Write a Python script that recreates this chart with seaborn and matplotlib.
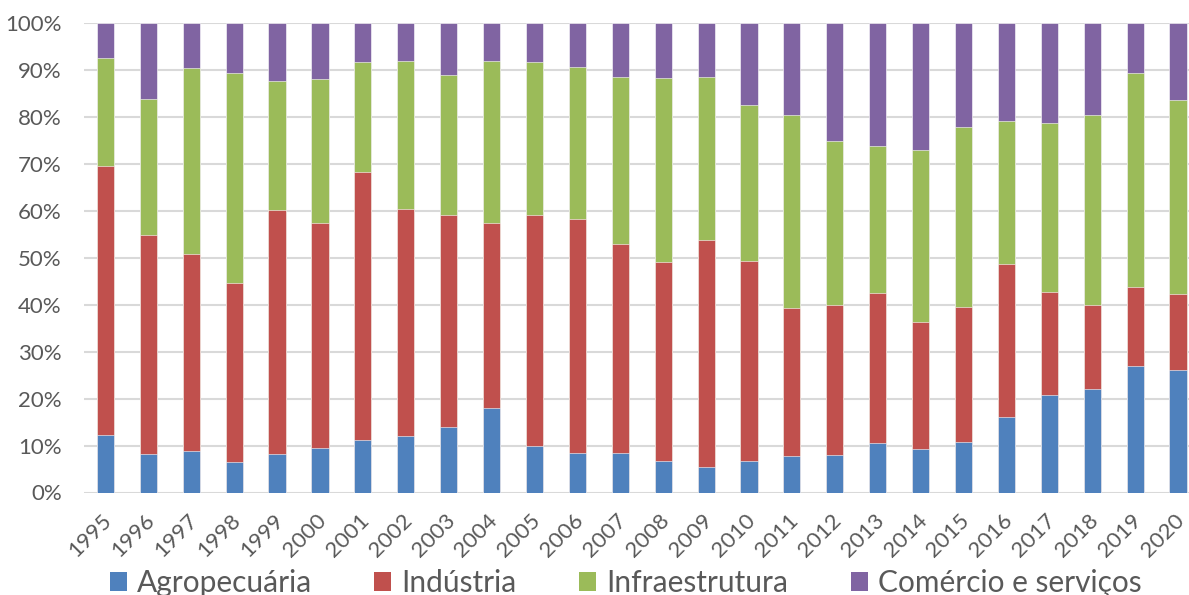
import numpy as np
import pandas as pd
import matplotlib
matplotlib.use("Agg")
import matplotlib.pyplot as plt
import matplotlib.transforms as mtransforms
import seaborn as sns
from matplotlib.patches import Patch
from matplotlib.ticker import PercentFormatter

years = [str(y) for y in range(1995, 2021)]
agropecuaria = [12.3, 8.1, 8.8, 6.6, 8.2, 9.4, 11.1, 12.0, 14.0, 17.9, 10.0, 8.4, 8.5,
                6.7, 5.4, 6.8, 7.8, 7.9, 10.6, 9.2, 10.7, 16.0, 20.8, 22.0, 26.9, 26.1]
industria = [57.2, 46.7, 42.0, 38.1, 51.9, 48.1, 57.2, 48.3, 45.1, 39.6, 49.0, 49.9, 44.4,
             42.5, 48.3, 42.5, 31.6, 32.1, 31.9, 27.2, 28.9, 32.7, 21.8, 18.0, 16.8, 16.1]
infraestrutura = [23.1, 29.0, 39.7, 44.7, 27.6, 30.6, 23.4, 31.6, 29.9, 34.3, 32.6, 32.4, 35.7,
                  39.0, 34.7, 33.3, 41.0, 34.9, 31.2, 36.6, 38.3, 30.4, 36.2, 40.3, 45.6, 41.5]
comercio = [7.4, 16.2, 9.5, 10.6, 12.3, 11.9, 8.3, 8.1, 11.0, 8.2, 8.4, 9.3, 11.4,
            11.8, 11.6, 17.4, 19.6, 25.1, 26.3, 27.0, 22.1, 20.9, 21.2, 19.7, 10.7, 16.3]
series_names = ["Agropecuária", "Indústria", "Infraestrutura", "Comércio e serviços"]
colors = ["#4F81BD", "#C0504D", "#9BBB59", "#8064A2"]

sns.set_theme(style="white")
plt.rcParams["font.family"] = ["Lato", "DejaVu Sans"]

vals = np.array([agropecuaria, industria, infraestrutura, comercio], dtype=float)
vals = vals / vals.sum(axis=0) * 100
cum = np.cumsum(vals, axis=0)

fig = plt.figure(figsize=(11.89, 5.95), dpi=100)
W, H = 1189, 595
ax = fig.add_axes([84 / W, 1 - 492.5 / H, (1199.5 - 84) / W, (492.5 - 23) / H])

# draw from the top layer down so each lower layer overlays the one above
for i in range(3, -1, -1):
    df = pd.DataFrame({"ano": years, "v": cum[i]})
    sns.barplot(data=df, x="ano", y="v", color=colors[i], saturation=1, width=0.40,
                ax=ax, edgecolor="white", linewidth=0.4, zorder=3)

ax.set_ylim(0, 100)
ax.set_xlim(-0.5, len(years) - 0.5)
ax.set_yticks(np.arange(0, 101, 10))
ax.yaxis.set_major_formatter(PercentFormatter(decimals=0))
ax.grid(axis="y", color="#D9D9D9", linewidth=1.5, zorder=0)
ax.set_axisbelow(True)
for s in ax.spines.values():
    s.set_visible(False)
ax.set_xlabel("")
ax.set_ylabel("")
ax.tick_params(axis="y", length=0, pad=16, labelsize=16, labelcolor="#595959")
ax.tick_params(axis="x", length=0, pad=13, labelsize=16, labelcolor="#595959")
shift = mtransforms.ScaledTranslation(-4 / 100, 0, fig.dpi_scale_trans)
for lab in ax.get_xticklabels():
    lab.set_rotation(45)
    lab.set_ha("right")
    lab.set_rotation_mode("anchor")
    lab.set_transform(lab.get_transform() + shift)

handles = [Patch(facecolor=c, edgecolor="none") for c in colors]
leg = fig.legend(handles, series_names, loc="center", ncol=4,
                 bbox_to_anchor=(0.526, 0.02), bbox_transform=fig.transFigure,
                 frameon=False, fontsize=21.5, handlelength=0.57, handleheight=0.57,
                 handletextpad=0.33, columnspacing=2.1, labelcolor="#595959",
                 borderpad=0.0)

fig.savefig("out.png", dpi=100)
